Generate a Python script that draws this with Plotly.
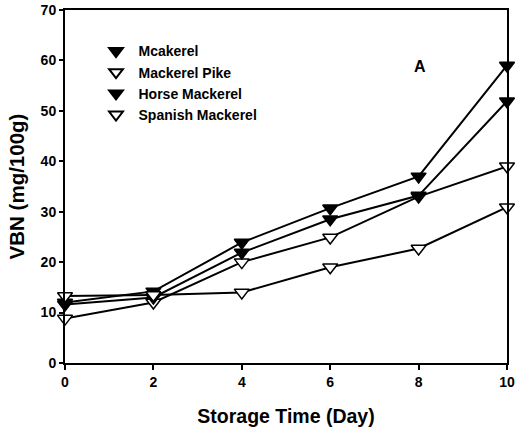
import plotly.graph_objects as go

days = [0, 2, 4, 6, 8, 10]
series_names = ["Mcakerel", "Mackerel Pike", "Horse Mackerel", "Spanish Mackerel"]
mcakerel = [12.0, 14.2, 23.9, 30.7, 37.0, 59.0]
mackerel_pike = [8.8, 12.0, 20.0, 24.9, 33.0, 39.0]
horse_mackerel = [11.6, 13.0, 21.9, 28.5, 33.2, 51.9]
spanish_mackerel = [13.3, 13.5, 14.0, 19.0, 22.7, 30.9]
series_values = [mcakerel, mackerel_pike, horse_mackerel, spanish_mackerel]
filled = [True, False, True, False]

FONT = "Liberation Sans, Arial, sans-serif"
fig = go.Figure()

for name, vals, f in zip(series_names, series_values, filled):
    fig.add_trace(go.Scatter(
        x=days, y=vals, mode="lines+markers", name=name, showlegend=False,
        line=dict(color="black", width=2),
        marker=dict(symbol="triangle-down", size=13,
                    color="black" if f else "white",
                    line=dict(color="black", width=1.5)),
        cliponaxis=False,
    ))

for name, f in zip(series_names, filled):
    fig.add_trace(go.Scatter(
        x=[None], y=[None], mode="markers", name=name, showlegend=True,
        marker=dict(symbol="triangle-down", size=12,
                    color="black" if f else "white",
                    line=dict(color="black", width=1.5)),
    ))

fig.update_layout(
    template="none",
    width=518, height=432,
    margin=dict(l=65, r=11, t=10, b=69, autoexpand=False),
    paper_bgcolor="white", plot_bgcolor="white",
    font=dict(family=FONT, color="black", size=14, weight="bold"),
    showlegend=True,
    legend=dict(x=0.0645, y=0.928, xanchor="left", yanchor="top",
                bgcolor="rgba(0,0,0,0)", font=dict(size=14, weight="bold"),
                tracegroupgap=0, itemsizing="constant", itemwidth=35),
    xaxis=dict(range=[0, 10], tickvals=[0, 2, 4, 6, 8, 10], automargin=False,
               showline=True, linecolor="black", linewidth=2, mirror=True,
               ticks="outside", ticklen=5, tickwidth=1.5, tickcolor="black",
               showgrid=False, zeroline=False,
               tickfont=dict(size=14, weight="bold"),
               title=dict(text="Storage Time (Day)", font=dict(size=19.5, weight="bold"), standoff=21)),
    yaxis=dict(range=[0, 70], tickvals=[0, 10, 20, 30, 40, 50, 60, 70], automargin=False,
               showline=True, linecolor="black", linewidth=2, mirror=True,
               ticks="outside", ticklen=4, tickwidth=1.5, tickcolor="black",
               showgrid=False, zeroline=False,
               tickfont=dict(size=14, weight="bold"),
               title=dict(text="VBN (mg/100g)", font=dict(size=20.5, weight="bold"), standoff=10)),
    annotations=[dict(x=8.03, y=58.8, xref="x", yref="y", text="A", showarrow=False,
                      font=dict(size=16, weight="bold"))],
)

fig.write_html("out.html", config={"displayModeBar": False},
               post_script="document.body.style.margin='0';")
